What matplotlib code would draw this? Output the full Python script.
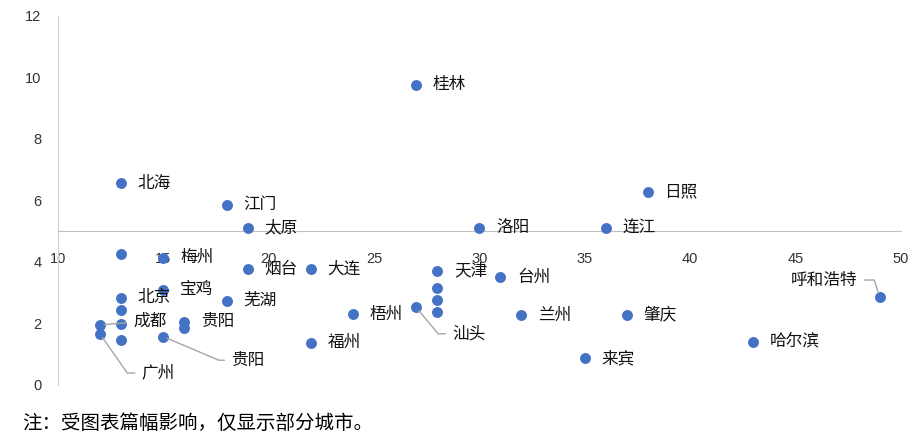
import matplotlib
matplotlib.use("Agg")
import matplotlib.pyplot as plt

plt.rcParams['font.family'] = ['Noto Sans CJK SC', 'DejaVu Sans']

# city label ('' = unlabeled point), x value, y value
cities = ['桂林', '北海', '江门', '太原', '洛阳', '连江', '日照',
          '', '梅州', '烟台', '大连', '天津', '台州',
          '宝鸡', '北京', '芜湖', '', '', '', '',
          '梧州', '汕头', '兰州', '肇庆', '呼和浩特',
          '', '成都', '广州', '贵阳', '', '贵阳 ',
          '', '福州', '来宾', '哈尔滨']
x_vals = [27, 13, 18, 19, 30, 36, 38,
          13, 15, 19, 22, 28, 31,
          15, 13, 18, 13, 28, 28, 28,
          24, 27, 32, 37, 49,
          13, 12, 12, 16, 16, 15,
          13, 22, 35, 43]
y_vals = [9.76, 6.55, 5.85, 5.10, 5.09, 5.09, 6.26,
          4.24, 4.13, 3.75, 3.75, 3.70, 3.49,
          3.08, 2.83, 2.73, 2.43, 3.13, 2.75, 2.37,
          2.30, 2.51, 2.26, 2.26, 2.86,
          1.97, 1.94, 1.64, 2.05, 1.83, 1.56,
          1.45, 1.36, 0.85, 1.39]

x_ticks = [10, 15, 20, 25, 30, 35, 40, 45, 50]
y_ticks = [0, 2, 4, 6, 8, 10, 12]
note = '注：受图表篇幅影响，仅显示部分城市。'

# labels drawn with a leader line: offset in points, alignment, leader angle at point
leaders = {
    '成都': ((24, 3), 'left', None),
    '广州': ((30, -28), 'left', -55),
    '贵阳 ': ((49, -17), 'left', -23),
    '汕头': ((26, -19), 'left', -50),
    '呼和浩特': ((-16, 12), 'right', 108),
}

fig = plt.figure(figsize=(9.2, 4.4), dpi=100)
ax = fig.add_axes([0.063, 0.126, 0.916, 0.838])

ax.scatter(x_vals, y_vals, s=62, color='#4472C4', zorder=3, linewidths=0)

for name, x, y in zip(cities, x_vals, y_vals):
    if not name:
        continue
    if name in leaders:
        off, ha, ang = leaders[name]
        if ang is None:
            cs = 'arc3'
        else:
            cs = 'angle,angleA=0,angleB=%d,rad=0' % ang
        ax.annotate(name.strip(), (x, y), xytext=off, textcoords='offset points',
                    ha=ha, va='center', fontsize=12, color='#111111',
                    arrowprops=dict(arrowstyle='-', color='#A6A6A6', lw=1,
                                    shrinkA=3, shrinkB=3, connectionstyle=cs))
    else:
        ax.annotate(name, (x, y), xytext=(12, 0), textcoords='offset points',
                    ha='left', va='center', fontsize=12, color='#111111')

ax.set_xlim(10, 50)
ax.set_ylim(0, 12)
ax.set_xticks(x_ticks)
ax.set_yticks(y_ticks)

ax.spines['top'].set_visible(False)
ax.spines['right'].set_visible(False)
ax.spines['bottom'].set_position(('data', 5))
ax.spines['bottom'].set_color('#BFBFBF')
ax.spines['left'].set_color('#D0D0D0')
ax.tick_params(axis='x', length=0, pad=15, labelsize=10.5, labelcolor='#333333')
ax.tick_params(axis='y', length=0, pad=12, labelsize=10.5, labelcolor='#333333')
for lab in ax.get_xticklabels() + ax.get_yticklabels():
    lab.set_family(['Liberation Sans', 'DejaVu Sans'])

fig.text(0.024, 0.038, note, fontsize=14, color='#000000', ha='left', va='center')

fig.savefig('out.png', dpi=100)
